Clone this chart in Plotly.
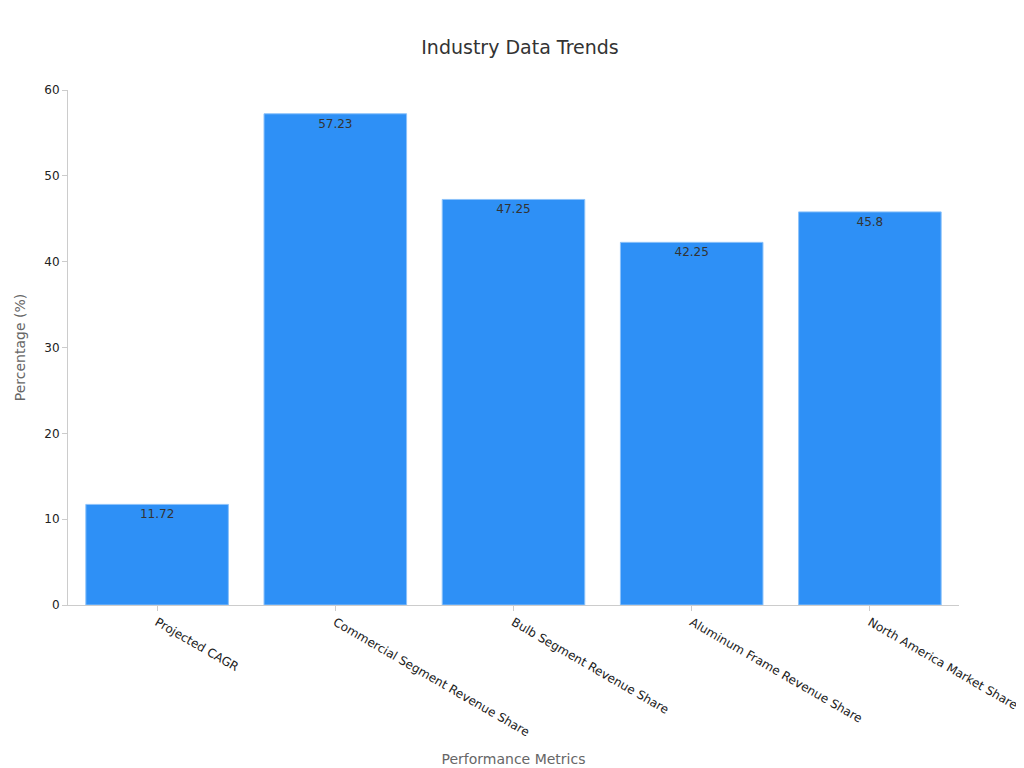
import plotly.graph_objects as go

categories = ["Projected CAGR", "Commercial Segment Revenue Share", "Bulb Segment Revenue Share",
              "Aluminum Frame Revenue Share", "North America Market Share"]
values = [11.72, 57.23, 47.25, 42.25, 45.8]

fig = go.Figure(go.Bar(
    x=categories, y=values, text=[str(v) for v in values],
    textposition="inside", insidetextanchor="end",
    textfont=dict(color="#333333", size=12),
    marker=dict(color="#2e90f6", line=dict(color="#8cc2fa", width=1)),
    width=0.8,
))
fig.update_layout(
    width=1024, height=768,
    font=dict(family="DejaVu Sans", color="#222222", size=12),
    title=dict(text="Industry Data Trends", x=0.5, y=0.957, xanchor="center",
               font=dict(size=19, color="#333333")),
    plot_bgcolor="white", paper_bgcolor="white",
    margin=dict(l=60, r=73, t=82, b=171),
    showlegend=False,
)
fig.update_xaxes(title=dict(text="Performance Metrics", font=dict(size=14, color="#666666")),
                 tickangle=30, showline=True, linecolor="#cccccc", ticks="outside",
                 tickcolor="#cccccc", ticklen=5)
fig.update_yaxes(title=dict(text="Percentage (%)", font=dict(size=14, color="#666666")),
                 range=[0, 60], dtick=10, showgrid=False, showline=True, linecolor="#cccccc",
                 ticks="outside", tickcolor="#cccccc", ticklen=5, zeroline=False)
fig.write_html("out.html")
